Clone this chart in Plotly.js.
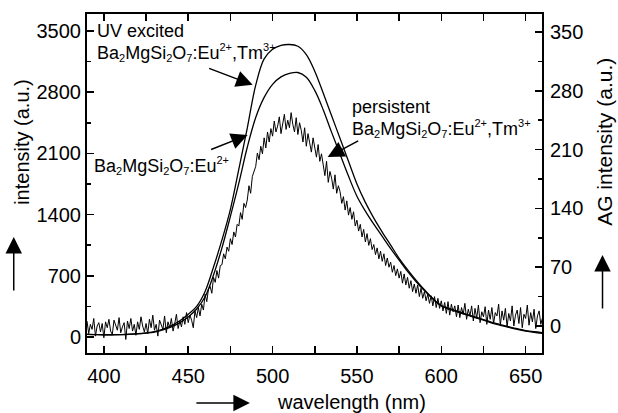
<!DOCTYPE html>
<html>
<head>
<meta charset="utf-8">
<script src="https://cdn.plot.ly/plotly-3.0.1.min.js"></script>
<style>html,body{margin:0;padding:0;background:#fff;}</style>
</head>
<body>
<div id="chart" style="width:618px;height:413px;"></div>
<script>
// wavelength grid (nm) for the two UV-excited spectra
const wavelength = [390,395,400,405,410,415,420,425,430,435,440,445,450,455,460,465,470,475,480,485,490,495,500,505,510,515,520,525,530,535,540,545,550,555,560,565,570,575,580,585,590,595,600,605,610,615,620,625,630,635,640,645,650,655,660];
// UV excited Ba2MgSi2O7:Eu2+,Tm3+ (left axis)
const uvEuTm = [30,28,26,26,28,32,38,48,62,90,130,185,260,350,520,800,1110,1460,1920,2390,2880,3180,3290,3335,3345,3325,3230,3040,2790,2530,2270,2010,1750,1540,1360,1200,1050,900,770,650,540,440,360,325,292,260,230,200,168,142,118,95,74,60,50];
// UV excited Ba2MgSi2O7:Eu2+ (left axis)
const uvEu = [30,28,26,26,27,30,35,44,56,80,115,165,230,320,460,710,1020,1380,1760,2170,2510,2740,2890,2975,3015,3025,2970,2820,2600,2340,2090,1840,1610,1440,1290,1150,1010,880,750,635,530,435,355,315,283,252,222,192,160,134,110,86,66,52,42];
// persistent (afterglow) Ba2MgSi2O7:Eu2+,Tm3+ (right axis), 1 nm steps from 390 nm
const persistStart = 390;
const persistStep = 1;
const persistent = [
 6,-9,2,-4,9,-12,0,4,-7,3,
 -14,5,-2,8,-6,-10,7,1,-5,10,
 -8,-1,4,-16,6,-3,9,-6,2,-11,
 5,-4,11,0,-7,3,-9,8,-2,13,
 -5,2,-12,7,1,-4,12,-8,5,-2,
 9,-6,3,14,-3,6,-1,11,2,16,
 4,13,7,-2,18,10,22,12,26,19,
 38,29,44,47,39,58,52,66,57,72,
 73,86,80,94,89,104,97,112,106,121,
 119,135,127,146,141,150,167,158,178,183,
 190,206,198,214,205,224,212,231,219,235,
 226,244,231,238,249,229,243,252,234,245,
 236,254,240,231,248,228,242,233,219,236,
 214,229,218,207,224,212,201,216,196,205,
 190,179,196,171,184,176,163,180,158,167,
 160,146,154,138,149,132,141,127,136,119,
 126,113,121,106,115,100,110,96,104,91,
 97,85,93,80,89,77,86,72,81,70,
 76,64,72,60,68,57,65,51,62,49,
 58,45,54,41,50,39,49,35,45,33,
 41,30,38,27,36,24,35,22,33,21,
 30,18,28,15,29,13,26,17,24,11,
 25,10,22,14,27,8,20,12,24,6,
 21,9,25,4,17,11,23,2,19,8,
 22,3,16,12,26,1,18,7,21,-1,
 15,6,24,0,13,19,3,22,-2,14,
 9,25,1,16,5,20,-3,12,18,2,
 10];
const persistWl = persistent.map((v, i) => persistStart + i * persistStep);

const xTicks = [400,450,500,550,600,650];
const yTicks = [0,700,1400,2100,2800,3500];
const y2Ticks = [0,70,140,210,280,350];

const FONT = 'Liberation Sans, Arial, Helvetica, sans-serif';
const s = t => '<span style="font-size:11px">' + t + '</span>';
const TM = 'Ba<sub>' + s('2') + '</sub>MgSi<sub>' + s('2') + '</sub>O<sub>' + s('7') + '</sub>:Eu<sup>' + s('2+') + '</sup>,Tm<sup>' + s('3+') + '</sup>';
const EU = 'Ba<sub>' + s('2') + '</sub>MgSi<sub>' + s('2') + '</sub>O<sub>' + s('7') + '</sub>:Eu<sup>' + s('2+') + '</sup>';

const traces = [
  {x: persistWl, y: persistent, yaxis: 'y2', type: 'scatter', mode: 'lines',
   line: {color: '#000', width: 1}, name: 'persistent'},
  {x: wavelength, y: uvEu, type: 'scatter', mode: 'lines',
   line: {color: '#000', width: 1.3, shape: 'spline'}, name: 'Eu'},
  {x: wavelength, y: uvEuTm, type: 'scatter', mode: 'lines',
   line: {color: '#000', width: 1.3, shape: 'spline'}, name: 'Eu,Tm'}
];

const axisCommon = {
  showgrid: false, zeroline: false, showline: true, linecolor: '#000', linewidth: 2,
  ticks: 'inside', ticklen: 7, tickwidth: 1.5, tickcolor: '#000',
  tickfont: {family: FONT, size: 20, color: '#000'}
};

const arrowStyle = {showarrow: true, arrowhead: 2, arrowsize: 2.2, arrowwidth: 1.5, arrowcolor: '#000', standoff: 0, text: '', xref: 'paper', yref: 'paper'};

const layout = {
  width: 618, height: 413,
  margin: {l: 87, r: 76, t: 14, b: 60, pad: 0},
  paper_bgcolor: '#fff', plot_bgcolor: '#fff',
  showlegend: false,
  font: {family: FONT, color: '#000'},
  xaxis: Object.assign({}, axisCommon, {
    range: [390, 659.7], tickmode: 'array', tickvals: xTicks, ticktext: xTicks.map(String),
    mirror: 'allticks', ticklabelstandoff: 4,
    minor: {dtick: 25, tick0: 400, ticks: 'inside', ticklen: 4, tickwidth: 1.5, tickcolor: '#000'}
  }),
  yaxis: Object.assign({}, axisCommon, {
    range: [-183, 3694], tickmode: 'array', tickvals: yTicks, ticktext: yTicks.map(String),
    mirror: false,
    minor: {dtick: 350, tick0: 0, ticks: 'inside', ticklen: 4, tickwidth: 1.5, tickcolor: '#000'}
  }),
  yaxis2: Object.assign({}, axisCommon, {
    range: [-32.1, 371.4], tickmode: 'array', tickvals: y2Ticks, ticktext: y2Ticks.map(String),
    overlaying: 'y', side: 'right', ticklabelstandoff: 2,
    minor: {dtick: 35, tick0: 0, ticks: 'inside', ticklen: 4, tickwidth: 1.5, tickcolor: '#000'}
  }),
  annotations: [
    {text: 'UV excited', xref: 'paper', yref: 'paper', x: 0.017, y: 0.950, xanchor: 'left', yanchor: 'middle', showarrow: false, font: {size: 18}},
    {text: TM, xref: 'paper', yref: 'paper', x: 0.017, y: 0.885, xanchor: 'left', yanchor: 'middle', showarrow: false, font: {size: 18}},
    {text: EU, xref: 'paper', yref: 'paper', x: 0.010, y: 0.552, xanchor: 'left', yanchor: 'middle', showarrow: false, font: {size: 18}},
    {text: 'persistent', xref: 'paper', yref: 'paper', x: 0.578, y: 0.726, xanchor: 'left', yanchor: 'middle', showarrow: false, font: {size: 18}},
    {text: TM, xref: 'paper', yref: 'paper', x: 0.578, y: 0.661, xanchor: 'left', yanchor: 'middle', showarrow: false, font: {size: 18}},
    // pointer arrows
    Object.assign({x: 0.364, y: 0.791, ax: -45, ay: -17}, arrowStyle),
    Object.assign({x: 0.353, y: 0.643, ax: -38, ay: 15}, arrowStyle),
    Object.assign({x: 0.529, y: 0.578, ax: 32, ay: -17}, arrowStyle),
    // axis titles
    {text: 'wavelength (nm)', xref: 'paper', yref: 'paper', x: 0.4125, y: -0.1445, xanchor: 'left', yanchor: 'middle', showarrow: false, font: {size: 20}},
    {text: 'intensity (a.u.)', xref: 'paper', yref: 'paper', x: -0.1435, y: 0.622, xanchor: 'center', yanchor: 'middle', textangle: -90, showarrow: false, font: {size: 20}},
    {text: 'AG intensity (a.u.)', xref: 'paper', yref: 'paper', x: 1.1356, y: 0.622, xanchor: 'center', yanchor: 'middle', textangle: -90, showarrow: false, font: {size: 21}},
    // direction arrows next to axis titles
    Object.assign({x: -0.161, y: 0.342, ax: 0, ay: 55}, arrowStyle),
    Object.assign({x: 1.133, y: 0.289, ax: 0, ay: 55}, arrowStyle),
    Object.assign({x: 0.358, y: -0.1475, ax: -55, ay: 0}, arrowStyle)
  ]
};

Plotly.newPlot('chart', traces, layout, {staticPlot: true, displayModeBar: false});
</script>
</body>
</html>
